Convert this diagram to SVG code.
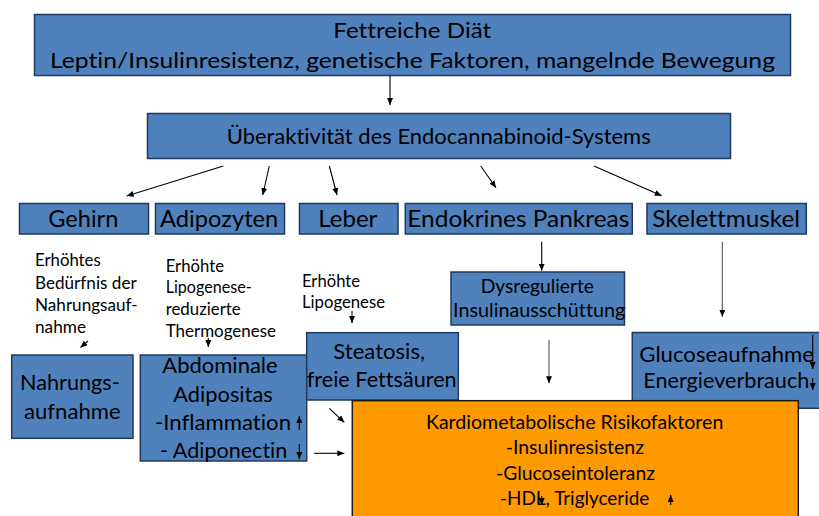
<svg xmlns="http://www.w3.org/2000/svg" width="819" height="516" viewBox="0 0 819 516">
<defs>
<style>
.box{fill:#4F81BD;stroke:#1F3A5F;stroke-width:1.5}
.orange{fill:#FF9900;stroke:#1a1a1a;stroke-width:1.5}
text{font-family:Lato,"Open Sans","Liberation Sans",sans-serif;fill:#000;font-variant-ligatures:none;font-feature-settings:"liga" 0,"clig" 0}
.t19{font-size:20.5px}
.t22{font-size:24px}
.t15{font-size:16.5px}
.t17{font-size:18.5px}
.t20{font-size:21.5px}
.conn line{stroke:#000;stroke-width:1.1;marker-end:url(#ah)}
.conn line.gray{stroke:#555}
</style>
<marker id="ah" viewBox="0 0 7 6" refX="7" refY="3" markerWidth="7" markerHeight="6" markerUnits="userSpaceOnUse" orient="auto">
<path d="M0,0 L7,3 L0,6 z" fill="#000"/>
</marker>
</defs>
<rect width="819" height="516" fill="#fff"/>

<g id="top">
<rect class="box" x="34.5" y="14.5" width="756" height="61"/>
<text class="t19" x="333.3" y="38.3" textLength="158" lengthAdjust="spacingAndGlyphs">Fettreiche Diät</text>
<text class="t19" x="50" y="68.3" textLength="725" lengthAdjust="spacingAndGlyphs">Leptin/Insulinresistenz, genetische Faktoren, mangelnde Bewegung</text>
</g>

<g id="ecs">
<rect class="box" x="147.5" y="113.5" width="583" height="45"/>
<text class="t19" x="226.7" y="144" textLength="424" lengthAdjust="spacingAndGlyphs">Überaktivität des Endocannabinoid-Systems</text>
</g>

<g id="gehirn">
<rect class="box" x="19.5" y="203.5" width="129" height="30.5"/>
<text class="t22" x="48.3" y="226.7" textLength="70" lengthAdjust="spacingAndGlyphs">Gehirn</text>
</g>
<g id="adipozyten">
<rect class="box" x="155.5" y="203.5" width="129" height="30.5"/>
<text class="t22" x="160" y="226.7" textLength="118.3" lengthAdjust="spacingAndGlyphs">Adipozyten</text>
</g>
<g id="leber">
<rect class="box" x="299.5" y="203.5" width="98.5" height="30.5"/>
<text class="t22" x="318.3" y="226.7" textLength="59" lengthAdjust="spacingAndGlyphs">Leber</text>
</g>
<g id="pankreas">
<rect class="box" x="405.3" y="203.5" width="227" height="30.5"/>
<text class="t22" x="407.3" y="226.7" textLength="222" lengthAdjust="spacingAndGlyphs">Endokrines Pankreas</text>
</g>
<g id="skelettmuskel">
<rect class="box" x="647" y="203.5" width="159.3" height="30.5"/>
<text class="t22" x="652.3" y="226.7" textLength="147.7" lengthAdjust="spacingAndGlyphs">Skelettmuskel</text>
</g>

<g id="gehirn-text">
<text class="t15" x="35" y="266" textLength="65.7" lengthAdjust="spacingAndGlyphs">Erhöhtes</text>
<text class="t15" x="35" y="288.7" textLength="101.7" lengthAdjust="spacingAndGlyphs">Bedürfnis der</text>
<text class="t15" x="35" y="310.7" textLength="102.7" lengthAdjust="spacingAndGlyphs">Nahrungsauf-</text>
<text class="t15" x="35" y="332.7" textLength="51" lengthAdjust="spacingAndGlyphs">nahme</text>
</g>
<g id="adipo-text">
<text class="t15" x="165.7" y="271.7" textLength="58.3" lengthAdjust="spacingAndGlyphs">Erhöhte</text>
<text class="t15" x="165.7" y="293.3" textLength="86" lengthAdjust="spacingAndGlyphs">Lipogenese-</text>
<text class="t15" x="165.7" y="315" textLength="75" lengthAdjust="spacingAndGlyphs">reduzierte</text>
<text class="t15" x="165.7" y="337.3" textLength="110.3" lengthAdjust="spacingAndGlyphs">Thermogenese</text>
</g>
<g id="leber-text">
<text class="t15" x="302" y="286.7" textLength="58" lengthAdjust="spacingAndGlyphs">Erhöhte</text>
<text class="t15" x="302" y="308.3" textLength="83" lengthAdjust="spacingAndGlyphs">Lipogenese</text>
</g>

<g id="dysreguliert">
<rect class="box" x="451" y="272" width="173.5" height="53"/>
<text class="t17" x="480.7" y="292.7" textLength="113.3" lengthAdjust="spacingAndGlyphs">Dysregulierte</text>
<text class="t17" x="453" y="317.3" textLength="172.3" lengthAdjust="spacingAndGlyphs">Insulinausschüttung</text>
</g>

<g id="nahrungsaufnahme">
<rect class="box" x="11.7" y="355" width="121.3" height="83.3"/>
<text class="t20" x="20" y="390" textLength="99.7" lengthAdjust="spacingAndGlyphs">Nahrungs-</text>
<text class="t20" x="24" y="419" textLength="96.7" lengthAdjust="spacingAndGlyphs">aufnahme</text>
</g>

<g id="abdominale">
<rect class="box" x="140.3" y="355" width="166.4" height="106"/>
<text class="t20" x="162.3" y="372.7" textLength="115.4" lengthAdjust="spacingAndGlyphs">Abdominale</text>
<text class="t20" x="173.3" y="402.3" textLength="99.4" lengthAdjust="spacingAndGlyphs">Adipositas</text>
<text class="t20" x="155" y="430" textLength="136" lengthAdjust="spacingAndGlyphs">-Inflammation</text>
<text class="t20" x="160" y="458.3" textLength="127.3" lengthAdjust="spacingAndGlyphs">- Adiponectin</text>
</g>

<g id="steatosis">
<rect class="box" x="306.7" y="332.7" width="151.6" height="67.3"/>
<text class="t20" x="333.3" y="359.3" textLength="91.7" lengthAdjust="spacingAndGlyphs">Steatosis,</text>
<text class="t20" x="306.7" y="386.7" textLength="150" lengthAdjust="spacingAndGlyphs">freie Fettsäuren</text>
</g>

<g id="glucose">
<rect class="box" x="632.3" y="332.5" width="200" height="75.8"/>
<text class="t20" x="639.3" y="362.3" textLength="174.7" lengthAdjust="spacingAndGlyphs">Glucoseaufnahme</text>
<text class="t20" x="643.3" y="388.3" textLength="166" lengthAdjust="spacingAndGlyphs">Energieverbrauch</text>
</g>

<g id="risikofaktoren">
<rect class="orange" x="352.3" y="400.7" width="446" height="125"/>
<text class="t17" x="426" y="429" textLength="297.3" lengthAdjust="spacingAndGlyphs">Kardiometabolische Risikofaktoren</text>
<text class="t17" x="505.7" y="454.3" textLength="138.3" lengthAdjust="spacingAndGlyphs">-Insulinresistenz</text>
<text class="t17" x="496" y="480" textLength="159" lengthAdjust="spacingAndGlyphs">-Glucoseintoleranz</text>
<text class="t17" x="500" y="505" textLength="149.3" lengthAdjust="spacingAndGlyphs">-HDL, Triglyceride</text>
</g>

<g class="conn" id="connectors">
<line x1="390" y1="75.7" x2="390" y2="105"/>
<line x1="223.3" y1="166" x2="126.7" y2="196"/>
<line x1="269.3" y1="166" x2="262.7" y2="195"/>
<line x1="329.3" y1="166" x2="337" y2="195"/>
<line x1="480.7" y1="166" x2="496" y2="187.7"/>
<line x1="594" y1="166" x2="661.7" y2="195.7"/>
<line x1="541.7" y1="241.7" x2="541.7" y2="270.7"/>
<line class="gray" x1="722.3" y1="241.7" x2="722.3" y2="316.7"/>
<line class="gray" x1="549" y1="340" x2="549" y2="383.3"/>
<line x1="88" y1="341" x2="80.5" y2="347.5"/>
<line x1="208.3" y1="338" x2="208.3" y2="347"/>
<line x1="352" y1="311" x2="352" y2="323"/>
<line x1="329.3" y1="408.3" x2="344.3" y2="422.3"/>
<line x1="314.3" y1="453.3" x2="344.3" y2="453.3"/>
<line x1="299.3" y1="430" x2="299.3" y2="416"/>
<line x1="299.3" y1="444" x2="299.3" y2="459"/>
<line x1="812.7" y1="335" x2="812.7" y2="369"/>
<line x1="812.7" y1="378" x2="812.7" y2="390"/>
<line x1="541.7" y1="496" x2="541.7" y2="505"/>
<line x1="670.7" y1="505" x2="670.7" y2="495"/>
</g>
</svg>
